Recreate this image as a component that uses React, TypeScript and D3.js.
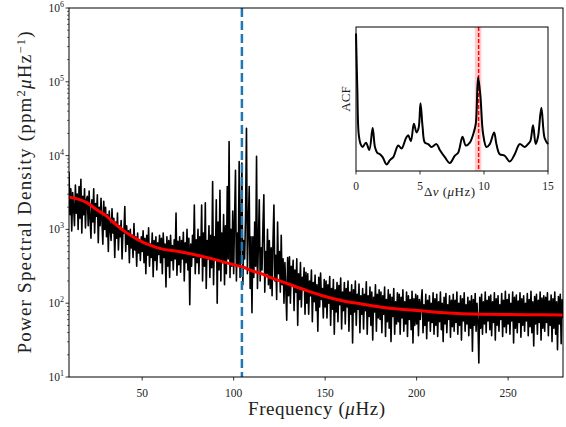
import React from "react";
import * as d3 from "d3";

// ---------- data ----------
const freqStart = 10; // μHz
const freqStep = 0.5; // μHz
// log10 of power spectral density (ppm^2/μHz), one row per 10 μHz
const psdLog10: number[] = [
  3.78, 3.20, 3.55, 2.98, 3.50, 3.30, 3.05, 3.60, 3.22, 3.48, 3.00, 3.58, 3.15, 3.68, 2.95, 3.45, 3.20, 3.55, 3.02, 3.40,
  3.45, 3.05, 3.52, 3.15, 2.88, 3.40, 3.10, 3.55, 2.95, 3.35, 3.18, 3.47, 2.82, 3.30, 3.05, 3.42, 3.12, 2.80, 3.38, 3.00,
  3.30, 2.90, 3.20, 2.70, 3.25, 3.00, 2.85, 3.28, 2.95, 3.15, 2.62, 3.10, 2.88, 3.22, 2.72, 3.05, 2.90, 3.12, 2.60, 3.00,
  2.95, 3.31, 2.70, 3.05, 2.80, 2.98, 2.55, 3.00, 2.75, 2.92, 2.62, 3.08, 2.72, 2.90, 2.50, 2.95, 2.68, 2.85, 2.58, 2.90,
  2.70, 2.98, 2.55, 2.88, 2.40, 2.92, 2.65, 3.02, 2.50, 2.80, 2.62, 2.95, 2.36, 2.85, 2.58, 2.90, 2.45, 2.82, 2.66, 2.92,
  2.55, 2.88, 2.40, 2.95, 2.62, 2.80, 2.22, 2.90, 2.50, 2.85, 2.35, 2.92, 2.58, 2.78, 2.45, 2.86, 2.60, 3.22, 2.38, 2.84,
  2.52, 2.90, 2.42, 2.85, 2.60, 2.96, 2.30, 2.82, 2.55, 3.00, 2.45, 2.88, 1.98, 2.80, 2.50, 2.92, 2.62, 3.33, 2.40, 2.86,
  2.55, 3.00, 2.40, 2.90, 2.62, 3.33, 2.30, 2.95, 2.50, 3.36, 2.20, 2.85, 2.60, 3.05, 2.35, 2.92, 2.48, 3.65, 2.25, 2.90,
  2.60, 3.40, 2.00, 3.10, 2.45, 3.53, 2.30, 2.95, 2.55, 3.20, 2.25, 3.05, 2.40, 3.58, 2.60, 4.19, 2.35, 3.00, 2.50, 3.25,
  2.40, 3.15, 3.80, 2.30, 2.95, 2.50, 3.92, 2.35, 3.00, 3.90, 2.25, 2.85, 2.60, 3.20, 4.37, 2.40, 3.05, 3.58, 2.20, 2.90,
  1.87, 2.90, 2.35, 3.10, 2.50, 3.99, 2.20, 2.80, 3.40, 2.30, 2.75, 2.45, 3.05, 3.47, 2.15, 2.70, 2.40, 3.00, 2.25, 2.85,
  2.20, 2.75, 2.10, 2.85, 3.33, 2.30, 2.65, 2.05, 3.10, 2.40, 2.70, 2.15, 2.92, 2.25, 2.60, 2.00, 2.55, 2.20, 1.77, 2.62,
  2.10, 2.63, 2.00, 2.50, 2.25, 2.58, 1.90, 2.45, 2.15, 2.60, 1.70, 2.40, 2.05, 2.55, 1.95, 2.35, 2.20, 2.48, 1.85, 2.42,
  2.00, 2.40, 1.85, 2.30, 2.10, 2.45, 1.75, 2.28, 2.02, 2.38, 1.90, 2.25, 1.62, 2.35, 1.95, 2.41, 2.05, 2.20, 1.80, 2.32,
  1.95, 2.30, 1.80, 2.25, 2.00, 2.36, 1.70, 2.20, 1.92, 2.32, 1.58, 2.18, 1.88, 2.28, 1.75, 2.24, 1.98, 2.34, 1.65, 2.15,
  1.90, 2.28, 1.72, 2.20, 1.95, 2.30, 1.62, 2.15, 1.85, 2.25, 1.46, 2.18, 1.88, 2.30, 1.70, 2.12, 1.92, 2.26, 1.60, 2.10,
  1.85, 2.20, 1.65, 2.12, 1.90, 2.29, 1.58, 2.10, 1.82, 2.22, 1.70, 2.15, 1.50, 2.08, 1.88, 2.25, 1.62, 2.12, 1.80, 2.18,
  1.78, 2.15, 1.60, 2.10, 1.85, 2.22, 1.55, 2.05, 1.75, 2.18, 1.66, 2.12, 1.48, 2.08, 1.82, 2.20, 1.58, 2.02, 1.72, 2.14,
  1.75, 2.12, 1.58, 2.08, 1.80, 2.18, 1.62, 2.02, 1.72, 2.15, 1.55, 2.10, 1.78, 2.05, 1.64, 2.16, 1.46, 2.06, 1.70, 2.12,
  1.72, 2.10, 1.56, 2.05, 1.78, 2.02, 2.18, 1.60, 1.98, 1.70, 2.12, 1.52, 2.04, 1.76, 2.10, 1.62, 2.00, 1.74, 2.14, 1.58,
  2.06, 1.70, 2.12, 1.55, 2.02, 1.75, 2.15, 1.64, 2.00, 1.48, 2.08, 1.72, 2.13, 1.60, 1.98, 1.78, 2.10, 1.54, 2.04, 1.68,
  2.12, 1.62, 2.04, 1.74, 2.15, 1.58, 2.00, 1.70, 2.10, 1.50, 2.06, 1.76, 2.14, 1.62, 1.98, 1.72, 2.08, 1.56, 2.03, 1.66,
  2.10, 1.35, 2.05, 1.70, 2.13, 1.62, 2.00, 1.74, 1.19, 2.08, 1.66, 2.12, 1.58, 2.02, 1.72, 2.15, 1.60, 2.04, 1.76, 2.09,
  1.64, 2.11, 1.56, 2.02, 1.74, 2.14, 1.50, 2.06, 1.70, 2.10, 1.62, 1.98, 1.78, 2.13, 1.55, 2.04, 1.68, 2.16, 1.60, 2.05,
  1.72, 2.12, 1.58, 2.00, 1.76, 2.15, 1.46, 2.08, 1.66, 2.11, 1.60, 2.03, 1.74, 2.14, 1.54, 2.06, 1.70, 2.10, 1.62, 2.00,
  1.76, 2.13, 1.56, 2.05, 1.68, 2.16, 1.60, 2.02, 1.42, 2.09, 1.72, 2.12, 1.58, 2.04, 1.74, 2.15, 1.50, 2.07, 1.66, 2.10,
  1.62, 2.08, 1.74, 2.14, 1.56, 2.03, 1.70, 2.11, 1.48, 2.06, 1.66, 2.15, 1.58, 2.02, 1.37, 2.09, 1.72, 2.12, 1.45, 2.05,
  1.80,
];

// background fit (red)
const fitFreq = [10, 15, 20, 25, 30, 35, 40, 45, 50, 55, 60, 70, 80, 90, 100, 105, 110, 115, 120, 130, 140, 150, 160, 170, 180, 190, 200, 215, 235, 260, 280];
const fitLog10 = [3.44, 3.41, 3.36, 3.27, 3.19, 3.08, 2.98, 2.90, 2.83, 2.78, 2.74, 2.70, 2.65, 2.59, 2.52, 2.49, 2.44, 2.40, 2.35, 2.26, 2.17, 2.09, 2.03, 1.99, 1.95, 1.92, 1.90, 1.87, 1.85, 1.845, 1.84];

const numax = 104.5; // μHz

// ACF inset
const acfLag = [0.00, 0.10, 0.21, 0.36, 0.52, 0.78, 1.04, 1.30, 1.48, 1.66, 1.87, 2.08, 2.39, 2.65, 2.91, 3.30, 3.56, 3.90, 4.08, 4.29, 4.52, 4.73, 4.89, 5.04, 5.20, 5.38, 5.64, 5.90, 6.29, 6.55, 6.94, 7.33, 7.72, 7.98, 8.32, 8.58, 8.89, 9.20, 9.36, 9.54, 9.72, 9.93, 10.19, 10.45, 10.79, 10.97, 11.23, 11.62, 12.01, 12.40, 12.79, 13.18, 13.44, 13.62, 13.83, 14.04, 14.22, 14.48, 14.74, 15.00];
const acfVal = [0.95, 0.58, 0.26, 0.19, 0.17, 0.20, 0.15, 0.30, 0.17, 0.13, 0.12, 0.10, 0.05, 0.08, 0.10, 0.18, 0.16, 0.23, 0.25, 0.21, 0.33, 0.27, 0.30, 0.47, 0.31, 0.20, 0.19, 0.17, 0.19, 0.15, 0.10, 0.06, 0.11, 0.13, 0.24, 0.18, 0.20, 0.27, 0.33, 0.65, 0.52, 0.26, 0.17, 0.19, 0.27, 0.19, 0.12, 0.11, 0.07, 0.12, 0.19, 0.17, 0.19, 0.21, 0.32, 0.19, 0.24, 0.44, 0.23, 0.19];
const dnu = 9.58;
const dnuLow = 9.28;
const dnuHigh = 9.8;

const xTicks = [50, 100, 150, 200, 250];
const yMajorExp = [1, 2, 3, 4, 5, 6];
const insetTicks = [0, 5, 10, 15];

// ---------- layout ----------
const W = 566;
const H = 427;
const M = { left: 69, right: 563, top: 8, bottom: 377 };
const IN = { left: 356, right: 548, top: 27, bottom: 171 };
const FONT = "'Liberation Serif', 'DejaVu Serif', serif";

export default function App() {
  const x = d3.scaleLinear().domain([10, 280]).range([M.left, M.right]);
  const y = d3.scaleLog().domain([10, 1e6]).range([M.bottom, M.top]);

  const spec = psdLog10.map((l, i) => [freqStart + i * freqStep, Math.pow(10, l)] as [number, number]);
  const specPath = d3.line<[number, number]>().x((d) => x(d[0])).y((d) => y(d[1]))(spec) || "";

  const fit = fitFreq.map((f, i) => [f, Math.pow(10, fitLog10[i])] as [number, number]);
  const fitPath = d3
    .line<[number, number]>()
    .x((d) => x(d[0]))
    .y((d) => y(d[1]))
    .curve(d3.curveMonotoneX)(fit) || "";

  const minor: number[] = [];
  for (let e = 1; e < 6; e++) for (let m = 2; m <= 9; m++) minor.push(m * Math.pow(10, e));

  // inset
  const ix = d3.scaleLinear().domain([0, 15]).range([IN.left, IN.right]);
  const [amin, amax] = d3.extent(acfVal) as [number, number];
  const pad = (amax - amin) * 0.05;
  const iy = d3.scaleLinear().domain([amin - pad, amax + pad]).range([IN.bottom, IN.top]);
  const acf = acfLag.map((l, i) => [l, acfVal[i]] as [number, number]);
  const acfPath = d3
    .line<[number, number]>()
    .x((d) => ix(d[0]))
    .y((d) => iy(d[1]))
    .curve(d3.curveCatmullRom.alpha(0.5))(acf) || "";

  return (
    <svg
      width={W}
      height={H}
      style={{ position: "absolute", left: 0, top: 0, background: "#fff" }}
      fontFamily={FONT}
    >
      <defs>
        <clipPath id="main-clip">
          <rect x={M.left} y={M.top} width={M.right - M.left} height={M.bottom - M.top} />
        </clipPath>
      </defs>
      <rect x={0} y={0} width={W} height={H} fill="#fff" />

      <g clipPath="url(#main-clip)">
        <path d={specPath} fill="none" stroke="#000" strokeWidth={1.6} strokeLinejoin="round" />
        <path d={fitPath} fill="none" stroke="#ff0000" strokeWidth={3} />
        <line
          x1={x(numax)}
          x2={x(numax)}
          y1={M.top}
          y2={M.bottom}
          stroke="#1f77b4"
          strokeWidth={2.5}
          strokeDasharray="9,4"
        />
      </g>

      {/* main axes frame */}
      <rect
        x={M.left}
        y={M.top}
        width={M.right - M.left}
        height={M.bottom - M.top}
        fill="none"
        stroke="#000"
        strokeWidth={1}
      />

      {/* x ticks */}
      {xTicks.map((t) => (
        <g key={"xt" + t}>
          <line x1={x(t)} x2={x(t)} y1={M.bottom} y2={M.bottom + 3.5} stroke="#000" strokeWidth={0.8} />
          <text x={x(t)} y={M.bottom + 20} textAnchor="middle" fontSize={11.5} fill="#222">
            {t}
          </text>
        </g>
      ))}

      {/* y ticks */}
      {minor.map((v) => (
        <line key={"ym" + v} x1={M.left - 2} x2={M.left} y1={y(v)} y2={y(v)} stroke="#000" strokeWidth={0.6} />
      ))}
      {yMajorExp.map((e) => (
        <g key={"yt" + e}>
          <line x1={M.left - 3.5} x2={M.left} y1={y(Math.pow(10, e))} y2={y(Math.pow(10, e))} stroke="#000" strokeWidth={0.8} />
          <text x={M.left - 5} y={y(Math.pow(10, e)) + 4} textAnchor="end" fontSize={11.5} fill="#222">
            <tspan>10</tspan>
            <tspan dy={-5} fontSize={8}>
              {e}
            </tspan>
          </text>
        </g>
      ))}

      {/* axis labels */}
      <text
        x={(M.left + M.right) / 2 - 68}
        y={415}
        fontSize={19}
        fill="#222"
        textLength={137}
        lengthAdjust="spacing"
      >
        Frequency (<tspan fontStyle="italic">μ</tspan>Hz)
      </text>
      <text
        transform={`translate(31, ${(M.top + M.bottom) / 2 + 161}) rotate(-90)`}
        fontSize={19}
        fill="#222"
        textLength={322}
        lengthAdjust="spacing"
      >
        Power Spectral Density (ppm
        <tspan dy={-6} fontSize={12.5}>2</tspan>
        <tspan dy={6} fontStyle="italic">μ</tspan>
        <tspan>Hz</tspan>
        <tspan dy={-6} fontSize={12.5}>−1</tspan>
        <tspan dy={6}>)</tspan>
      </text>

      {/* inset */}
      <rect x={IN.left} y={IN.top} width={IN.right - IN.left} height={IN.bottom - IN.top} fill="#fff" />
      <rect
        x={ix(dnuLow)}
        y={IN.top}
        width={ix(dnuHigh) - ix(dnuLow)}
        height={IN.bottom - IN.top}
        fill="#ff0000"
        fillOpacity={0.2}
      />
      <line x1={ix(dnu)} x2={ix(dnu)} y1={IN.top} y2={IN.bottom} stroke="#ff0000" strokeWidth={1.5} strokeDasharray="4,2" />
      <path d={acfPath} fill="none" stroke="#000" strokeWidth={2} />
      <rect
        x={IN.left}
        y={IN.top}
        width={IN.right - IN.left}
        height={IN.bottom - IN.top}
        fill="none"
        stroke="#000"
        strokeWidth={1}
      />
      {insetTicks.map((t) => (
        <g key={"it" + t}>
          <line x1={ix(t)} x2={ix(t)} y1={IN.bottom} y2={IN.bottom + 3.5} stroke="#000" strokeWidth={0.8} />
          <text x={ix(t)} y={IN.bottom + 19} textAnchor="middle" fontSize={11.5} fill="#222">
            {t}
          </text>
        </g>
      ))}
      <text x={424} y={196} fontSize={13} fill="#222" textLength={51} lengthAdjust="spacing">
        Δ<tspan fontStyle="italic">ν</tspan> (<tspan fontStyle="italic">μ</tspan>Hz)
      </text>
      <text
        transform={`translate(350, ${(IN.top + IN.bottom) / 2}) rotate(-90)`}
        textAnchor="middle"
        fontSize={13}
        fill="#222"
      >
        ACF
      </text>
    </svg>
  );
}
